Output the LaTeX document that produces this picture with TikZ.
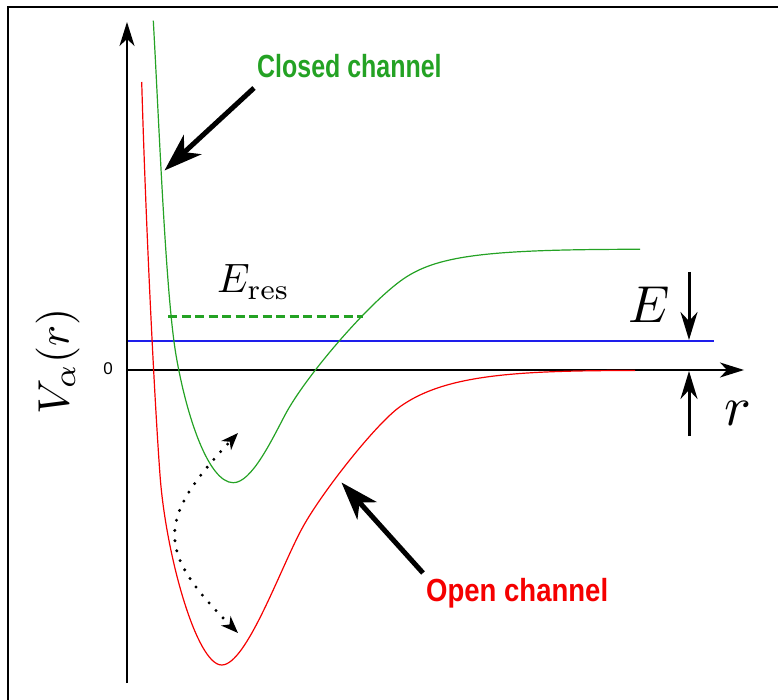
\documentclass[tikz,border=0pt]{standalone}
\usepackage{fontspec}
\newfontfamily\chanfont{Liberation Sans}
\newfontfamily\zerofont{Liberation Sans}
\usetikzlibrary{arrows.meta}
\definecolor{cgreen}{RGB}{36,162,36}
\definecolor{cred}{RGB}{245,0,0}
\definecolor{cblue}{RGB}{30,30,235}
\tikzset{
  axisline/.style={line width=1.3pt,-{Stealth[length=24pt,width=15pt,inset=7pt]}},
  bigarrow/.style={line width=5pt,-{Stealth[length=38pt,width=26pt,inset=11pt]}},
  earrow/.style={line width=3pt,-{Stealth[length=28pt,width=17pt,inset=9pt]}},
  dotarrow/.style={line width=3.3pt,line cap=round,dash pattern=on 0pt off 10.3pt,
    {Stealth[length=17pt,width=13pt,inset=5pt]}-{Stealth[length=17pt,width=13pt,inset=5pt]}},
  curve/.style={line width=1.2pt},
  chanlabel/.style={inner sep=0pt,font=\chanfont\bfseries\fontsize{32}{36}\selectfont},
  mathlabel/.style={inner sep=0pt}
}
\begin{document}
\begin{tikzpicture}[x=1pt,y=-1pt]
\useasboundingbox (0,0) rectangle (778,700);
% frame
\draw[line width=1.6pt] (8,700) -- (8,7) -- (778,7);
% coordinates
\coordinate (yaxB) at (127,683);
\coordinate (yaxT) at (127,22);
\coordinate (xaxL) at (127,370);
\coordinate (xaxR) at (744,370);
\coordinate (eL) at (127,341);
\coordinate (eR) at (714,341);
\coordinate (dL) at (168,316.5);
\coordinate (dR) at (363,316.5);
% blue energy line
\draw[cblue,line width=1.3pt] (eL) -- (eR);
% dashed resonance level
\draw[cgreen,line width=3.2pt,dash pattern=on 9pt off 4.5pt] (dL) -- (dR);
% axes
\draw[axisline] (yaxB) -- (yaxT);
\draw[axisline] (xaxL) -- (xaxR);
% open channel (red)
\draw[cred,curve] (141.7,82)
  .. controls (146,230) and (154.5,400) .. (160,475)
  .. controls (165.8,555) and (196.7,665) .. (221.7,665)
  .. controls (246.7,665) and (281.1,566) .. (303,526.7)
  .. controls (322.4,491.7) and (375.7,424.1) .. (400,406.7)
  .. controls (444.6,374.8) and (515,370.5) .. (635,370.5);
% closed channel (green)
\draw[cgreen,curve] (153.3,20.7)
  .. controls (159.4,130.7) and (165.8,295) .. (176,355)
  .. controls (186.2,415) and (208.3,482.7) .. (233.3,482.7)
  .. controls (251.3,482.7) and (271,441.6) .. (285,415)
  .. controls (306,375.2) and (372.9,298) .. (406.7,276.7)
  .. controls (440.5,255.4) and (490,249.3) .. (640,249.3);
% dotted transition arrows
\coordinate (dtTop) at (238,433);
\coordinate (dtBot) at (238,633);
\draw[dotarrow] (dtBot) .. controls (156,551) and (156,520) .. (dtTop);
% big arrows
\coordinate (cStart) at (254,88);
\coordinate (cTip) at (164.5,170.5);
\draw[bigarrow] (cStart) -- (cTip);
\coordinate (oStart) at (423,573);
\coordinate (oTip) at (341.5,482.5);
\draw[bigarrow] (oStart) -- (oTip);
% E arrows
\coordinate (eaTop) at (689,272);
\coordinate (eaTopTip) at (689,340);
\coordinate (eaBot) at (689,436);
\coordinate (eaBotTip) at (689,371);
\draw[earrow] (eaTop) -- (eaTopTip);
\draw[earrow] (eaBot) -- (eaBotTip);
% labels
\node[chanlabel,text=cgreen,anchor=base west] (closed) at (257,78) {\scalebox{0.78}[1]{Closed channel}};
\node[chanlabel,text=cred,anchor=base west] (open) at (426,601) {\scalebox{0.86}[1]{Open channel}};
\node[mathlabel,rotate=90] (vlab) at (57.5,361) {\scalebox{4.4}{$V_\alpha(r)$}};
\node[mathlabel,font=\zerofont\fontsize{17}{19}\selectfont] (zero) at (108,369) {0};
\node[mathlabel] (elab) at (649.5,305) {\scalebox{5.2}{$E$}};
\node[mathlabel] (rlab) at (737.5,413) {\scalebox{5.6}{$r$}};
\node[mathlabel,anchor=base west] (eres) at (217,293) {\scalebox{4.1}{$E_{\mathrm{res}}$}};
\end{tikzpicture}
\end{document}
